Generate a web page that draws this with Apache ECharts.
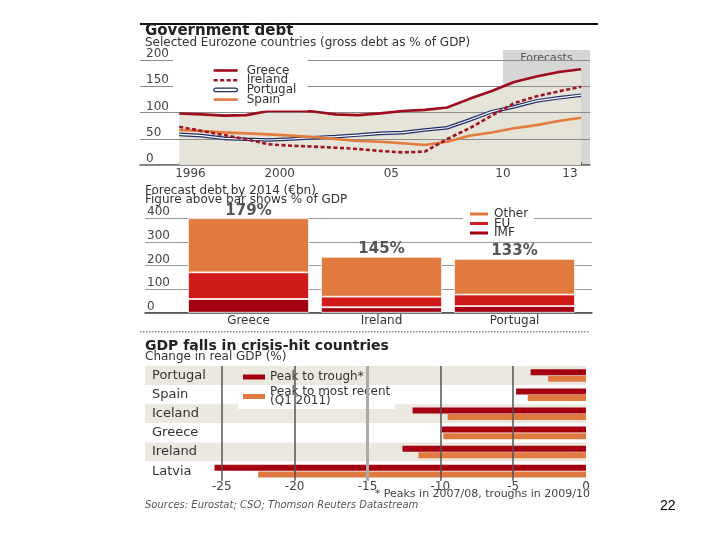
<!DOCTYPE html>
<html><head><meta charset="utf-8">
<script src="https://cdn.jsdelivr.net/npm/echarts@6/dist/echarts.min.js"></script>
<style>html,body{margin:0;padding:0;background:#fff}#c{width:720px;height:540px}</style>
</head><body><div id="c"></div>
<script>
// ---------- Data: Government debt (% of GDP), year-end values ----------
const debtYears = [1995,1996,1997,1998,1999,2000,2001,2002,2003,2004,2005,2006,2007,2008,2009,2010,2011,2012,2013];
const greeceDebt   = [98,96.5,94,95,103,103.5,102,96.5,95,98.4,103,105,109.5,126,141,158,168.6,177,182.5];
const irelandDebt  = [73,64.8,57,49,39.4,36.8,35,33,30.5,26.7,24.1,25.4,49.5,70,94,118,130.8,140.3,149];
const portugalDebt = [58.4,56,50.8,49,47.6,49.5,52,54,57,60.3,61.6,66.7,71,85.7,101.6,111,122,128,133];
const spainDebt    = [66.7,64.8,62.2,60.3,58.4,56,53.3,49.5,45.7,44.4,41.3,38,44.4,55.8,62,70,76,83.8,90];
const debtYearLabels = [1996,2000,2005,2010,2013];
const forecastFrom = 2010;

// ---------- Data: Forecast debt by 2014 (€bn) ----------
const bailoutCountries = ['Greece','Ireland','Portugal'];
const imfDebt   = [58,23,28];
const euDebt    = [113,45,49];
const otherDebt = [229,169,151];
const gdpShareLabels = ['179%','145%','133%'];

// ---------- Data: GDP falls (%) ----------
const gdpCountries = ['Portugal','Spain','Iceland','Greece','Ireland','Latvia'];
const peakToTrough = [-3.8,-4.8,-11.9,-9.9,-12.6,-25.5];
const peakToRecent = [-2.6,-4.0,-9.5,-9.8,-11.5,-22.5];
const gdpTicks = [-25,-20,-15,-10,-5,0];

// ---------- Build ----------
const pts = arr => debtYears.map((y,i)=>[y+0.5, arr[i]]);
const xMin = 1993.74, xMax = 2013.9;
const halfYears = debtYears.map(y=>y+0.5);
const F = 'DejaVu Sans';
const navy = '#1f2d6b';
const box = 'M0,0M24,8';
const solidIcon = 'path://' + box + 'M0,2.7L24,2.7L24,5.3L0,5.3Z';
const dashIcon = 'path://' + box + 'M0,2.8L4,2.8L4,5.2L0,5.2ZM6.5,2.8L10.5,2.8L10.5,5.2L6.5,5.2ZM13,2.8L17,2.8L17,5.2L13,5.2ZM19.5,2.8L23.5,2.8L23.5,5.2L19.5,5.2Z';
const doubleIcon = 'path://' + box + 'M2,2.2L22,2.2A1.8,1.8,0,0,1,22,5.8L2,5.8A1.8,1.8,0,0,1,2,2.2Z';

const chart = echarts.init(document.getElementById('c'), null, {renderer:'canvas'});
chart.setOption({
  animation:false,
  backgroundColor:'#fff',
  textStyle:{fontFamily:F},
  title:[
    {text:'Government debt', left:145, top:24, padding:0, textStyle:{fontSize:15, fontWeight:'bold', color:'#222', fontFamily:F}},
    {text:'Selected Eurozone countries (gross debt as % of GDP)', left:145, top:37, padding:0, textStyle:{fontSize:12, fontWeight:'normal', color:'#333', fontFamily:F}},
    {text:'Forecast debt by 2014 (€bn)', left:145, top:184.5, padding:0, textStyle:{fontSize:12, fontWeight:'normal', color:'#333', fontFamily:F}},
    {text:'Figure above bar shows % of GDP', left:145, top:194, padding:0, textStyle:{fontSize:12, fontWeight:'normal', color:'#333', fontFamily:F}},
    {text:'GDP falls in crisis-hit countries', left:145, top:339.7, padding:0, textStyle:{fontSize:14, fontWeight:'bold', color:'#222', fontFamily:F}},
    {text:'Change in real GDP (%)', left:145, top:350.5, padding:0, textStyle:{fontSize:12, fontWeight:'normal', color:'#333', fontFamily:F}},
    {text:'* Peaks in 2007/08, troughs in 2009/10', right:130, top:489, padding:0, textStyle:{fontSize:11, fontWeight:'normal', color:'#444', fontFamily:F}},
    {text:'Sources: Eurostat; CSO; Thomson Reuters Datastream', left:145, top:500.5, padding:0, textStyle:{fontSize:10, fontStyle:'italic', fontWeight:'normal', color:'#555', fontFamily:F}},
    {text:'22', left:660, top:499, padding:0, textStyle:{fontSize:14, fontWeight:'normal', color:'#000', fontFamily:'Liberation Sans'}}
  ],
  graphic:[
    {type:'line', shape:{x1:140,y1:24,x2:598,y2:24}, style:{stroke:'#111', lineWidth:2}},
    {type:'line', shape:{x1:140,y1:331.7,x2:590,y2:331.7}, style:{stroke:'#888', lineWidth:1.5, lineDash:[1.5,1.5]}}
  ],
  legend:[
    {data:[
       {name:'Greece', icon:solidIcon, itemStyle:{color:'#9e0b1b', borderWidth:0}},
       {name:'Ireland', icon:dashIcon, itemStyle:{color:'#a3121f', borderWidth:0}},
       {name:'Portugal', icon:doubleIcon, itemStyle:{color:'#fff', borderColor:navy, borderWidth:1.3}},
       {name:'Spain', icon:solidIcon, itemStyle:{color:'#e37a3f', borderWidth:0}}],
     orient:'vertical', left:173, top:59.5, padding:[5,11,5,40], backgroundColor:'#fff',
     itemWidth:24, itemHeight:8, itemGap:-2.3, selectedMode:false,
     textStyle:{fontSize:12, color:'#333', lineHeight:9.7, padding:[0,0,0,4], fontFamily:F}},
    {data:['Other','EU','IMF'], orient:'vertical', left:463, top:206, padding:[2,6,2,5], backgroundColor:'#fff',
     icon:'rect', itemWidth:20, itemHeight:5, itemGap:-2.5, selectedMode:false,
     textStyle:{fontSize:12, color:'#333', lineHeight:9.5, fontFamily:F}},
    {data:['Peak to trough*'], left:238, top:369, padding:[2,5,2,5], backgroundColor:'#ebe8df',
     icon:'rect', itemWidth:22, itemHeight:5, selectedMode:false,
     textStyle:{fontSize:12, color:'#333', lineHeight:12, fontFamily:F}},
    {data:['Peak to most recent\n(Q1 2011)'], left:238, top:385, padding:[1,5,2,5], backgroundColor:'#fff',
     icon:'rect', itemWidth:22, itemHeight:5, selectedMode:false,
     textStyle:{fontSize:12, color:'#333', lineHeight:9, fontFamily:F}}
  ],
  grid:[
    {left:140, right:130, top:60, bottom:375},
    {left:140, right:130, top:50, bottom:375},
    {left:145, right:128, top:218.3, bottom:227.3},
    {left:182, right:139, top:218.3, bottom:227.3},
    {left:145, right:134, top:366, bottom:59.3}
  ],
  xAxis:[
    {gridIndex:0, type:'value', min:xMin, max:xMax,
     axisLine:{show:true, lineStyle:{color:'#555', width:1.5}}, splitLine:{show:false},
     axisTick:{show:true, inside:true, length:3, customValues:halfYears, lineStyle:{color:'#666'}},
     axisLabel:{customValues:debtYearLabels, margin:3, fontSize:12, color:'#444',
       formatter:v=> (v===1996||v===2000) ? String(v) : String(v).slice(2)}},
    {gridIndex:1, type:'value', min:xMin, max:xMax, show:false},
    {gridIndex:2, type:'value', min:0, max:1, axisLine:{show:true, lineStyle:{color:'#444', width:1.5}},
     axisTick:{show:false}, axisLabel:{show:false}, splitLine:{show:false}},
    {gridIndex:3, type:'category', data:bailoutCountries, axisLine:{show:false}, axisTick:{show:false},
     axisLabel:{margin:2, fontSize:12, color:'#333'}},
    {gridIndex:4, type:'value', min:-30.27, max:0, axisLine:{show:false}, axisTick:{show:false}, splitLine:{show:false},
     axisLabel:{customValues:gdpTicks, margin:0, fontSize:12, color:'#444'}}
  ],
  yAxis:[
    {gridIndex:0, type:'value', min:0, max:200, interval:50, z:2.5,
     axisLine:{show:false}, axisTick:{show:false},
     splitLine:{lineStyle:{color:'#8c8c8c', width:1}},
     axisLabel:{inside:true, margin:6, verticalAlign:'bottom', fontSize:12, color:'#444'}},
    {gridIndex:1, type:'value', min:0, max:1, show:false},
    {gridIndex:2, type:'value', min:0, max:400, interval:100,
     axisLine:{show:false}, axisTick:{show:false},
     splitLine:{lineStyle:{color:'#999', width:1}},
     axisLabel:{inside:true, margin:2, verticalAlign:'bottom', fontSize:12, color:'#444'}},
    {gridIndex:3, type:'value', min:0, max:400, show:false},
    {gridIndex:4, type:'category', data:gdpCountries, inverse:true,
     axisLine:{show:false}, axisTick:{show:false},
     axisLabel:{inside:true, margin:7, fontSize:13, color:'#333'},
     splitArea:{show:true, areaStyle:{color:['#ebe8df','#ffffff']}}}
  ],
  series:[
    // top chart
    {name:'GreeceArea', type:'line', xAxisIndex:0, yAxisIndex:0, data:pts(greeceDebt), symbol:'none', silent:true,
     lineStyle:{width:0}, areaStyle:{color:'#e6e3d9', opacity:1}, z:1},
    {name:'ForecastBox', type:'line', xAxisIndex:1, yAxisIndex:1, data:[], z:2, silent:true,
     markArea:{silent:true, itemStyle:{color:'rgba(50,48,40,0.2)'},
       label:{show:true, position:'insideTop', distance:3, formatter:'Forecasts', color:'#555', fontSize:11, fontFamily:F},
       data:[[{xAxis:forecastFrom},{xAxis:xMax}]]}},
    {name:'Portugal', type:'line', xAxisIndex:0, yAxisIndex:0, data:pts(portugalDebt), symbol:'none', z:3,
     lineStyle:{color:navy, width:3.6}, itemStyle:{color:navy}},
    {name:'PortugalInner', type:'line', xAxisIndex:0, yAxisIndex:0, data:pts(portugalDebt), symbol:'none', z:3, silent:true,
     lineStyle:{color:'#fff', width:1.2}},
    {name:'Spain', type:'line', xAxisIndex:0, yAxisIndex:0, data:pts(spainDebt), symbol:'none', z:3,
     lineStyle:{color:'#e37a3f', width:2.6}, itemStyle:{color:'#e37a3f'}},
    {name:'Ireland', type:'line', xAxisIndex:0, yAxisIndex:0, data:pts(irelandDebt), symbol:'none', z:3,
     lineStyle:{color:'#a3121f', width:2.6, type:[4,2.5]}, itemStyle:{color:'#a3121f'}},
    {name:'Greece', type:'line', xAxisIndex:0, yAxisIndex:0, data:pts(greeceDebt), symbol:'none', z:3,
     lineStyle:{color:'#9e0b1b', width:2.6}, itemStyle:{color:'#9e0b1b'}},
    // middle chart
    {name:'IMF', type:'bar', stack:'debt', xAxisIndex:3, yAxisIndex:3, data:imfDebt, barWidth:121,
     itemStyle:{color:'#a50010', borderColor:'#fff', borderWidth:0.8}},
    {name:'EU', type:'bar', stack:'debt', xAxisIndex:3, yAxisIndex:3, data:euDebt, barWidth:121,
     itemStyle:{color:'#d01a1a', borderColor:'#fff', borderWidth:0.8}},
    {name:'Other', type:'bar', stack:'debt', xAxisIndex:3, yAxisIndex:3, data:otherDebt, barWidth:121,
     itemStyle:{color:'#e07a3e', borderColor:'#fff', borderWidth:0.8},
     label:{show:true, position:'top', distance:0, fontSize:15, fontWeight:'bold', color:'#555', fontFamily:F,
       formatter:p=>gdpShareLabels[p.dataIndex]}},
    // bottom chart
    {name:'GridLines', type:'line', xAxisIndex:4, yAxisIndex:4, data:[], z:1, silent:true,
     markLine:{silent:true, symbol:['none','none'], label:{show:false},
       lineStyle:{color:'#555', width:1.5, type:'solid'},
       data:gdpTicks.filter(v=>v!==0).map(v=> v===-15 ? {xAxis:v, lineStyle:{color:'#aaa', width:3, type:'solid'}} : {xAxis:v})}},
    {name:'Peak to trough*', type:'bar', xAxisIndex:4, yAxisIndex:4, data:peakToTrough, barWidth:6, barGap:'10%', z:2,
     itemStyle:{color:'#a50012'}},
    {name:'Peak to most recent\n(Q1 2011)', type:'bar', xAxisIndex:4, yAxisIndex:4, data:peakToRecent, barWidth:6, barGap:'10%', z:2,
     itemStyle:{color:'#e07a40'}}
  ]
});
</script>
</body></html>
